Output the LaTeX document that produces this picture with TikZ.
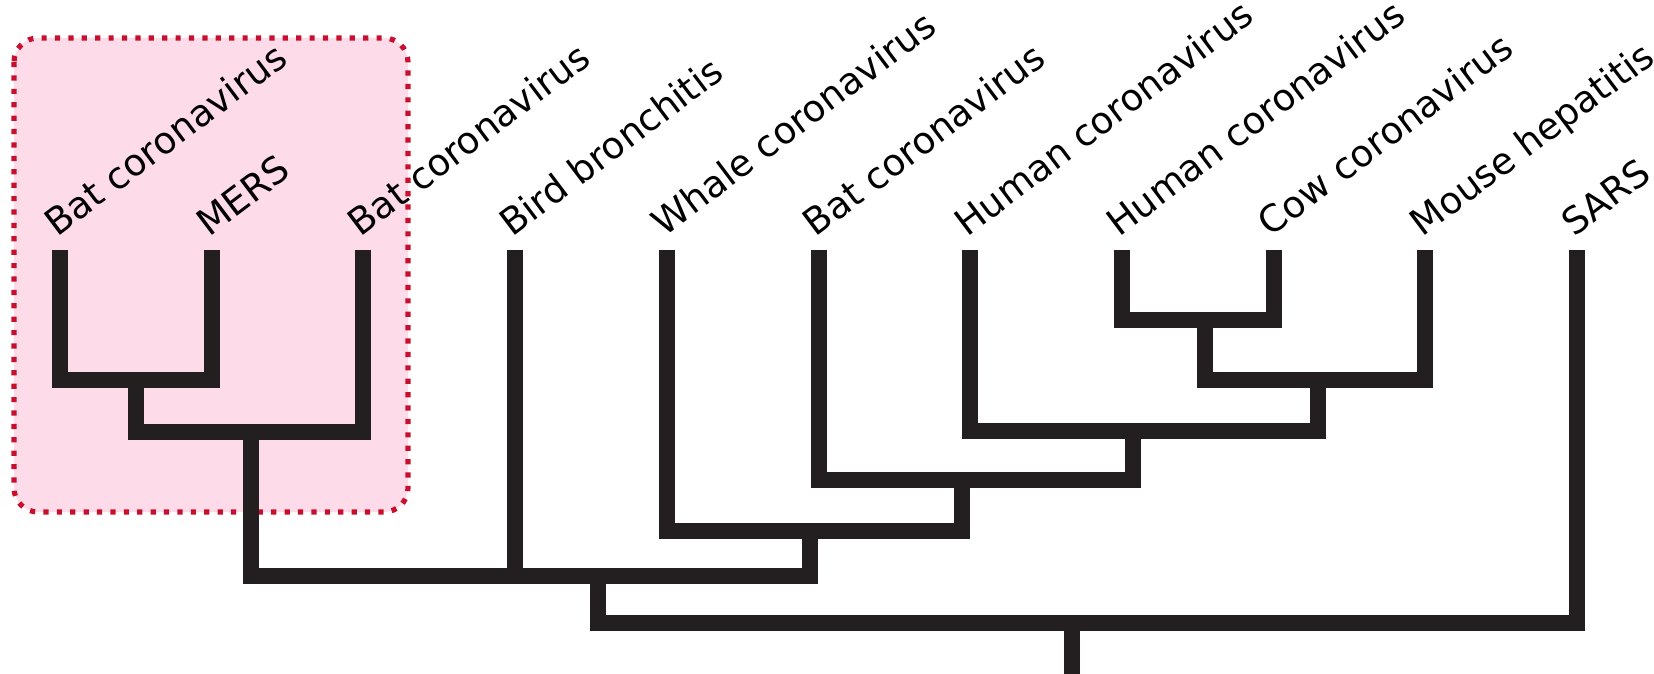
\documentclass[tikz,border=0pt]{standalone}
\usepackage{fontspec}
\setmainfont{DejaVu Sans}
\usepackage{xcolor}
\usetikzlibrary{positioning}
\definecolor{branchcol}{HTML}{231F20}
\definecolor{merspink}{HTML}{FDDBE8}
\definecolor{mersred}{HTML}{C8102E}

\begin{document}
\begin{tikzpicture}[x=0.5pt,y=-0.5pt,
    branch/.style={draw=branchcol,line width=8pt},
    leaf/.style={rotate=37,anchor=base west,inner sep=0pt,
      font=\fontsize{18.5}{21}\selectfont}]
  \useasboundingbox (0,0) rectangle (1654,674);
  % MERS clade box
  \draw[fill=merspink,draw=mersred,line width=2.6pt,
    dash pattern=on 2.6pt off 4.1pt,rounded corners=12pt]
    (14,38) rectangle (408,512);
  % leaf tips and names
  \foreach \name/\txt [count=\i from 0] in {bat1/Bat coronavirus,mers/MERS,
      bat2/Bat coronavirus,bird/Bird bronchitis,whale/Whale coronavirus,
      bat3/Bat coronavirus,human1/Human coronavirus,human2/Human coronavirus,
      cow/Cow coronavirus,mouse/Mouse hepatitis,sars/SARS}{
    \coordinate (\name) at ({60+151.7*\i},250);
    \node[leaf] (\name-lab) at ([xshift=-1.5pt,yshift=6pt]\name) {\txt};
  }
  % branch points
  \coordinate (j12)  at (136,380);
  \coordinate (jA)   at (251,432);
  \coordinate (j89)  at (1205,320);
  \coordinate (j810) at (1318,380);
  \coordinate (j7)   at (1133,431);
  \coordinate (j6)   at (962,480);
  \coordinate (j5)   at (810,531);
  \coordinate (jB)   at (598,576);
  \coordinate (root) at (1072,623);
  \coordinate (base) at (1072,680);
  % tree
  \draw[branch] (bat1) |- (j12) -| (mers);
  \draw[branch] (j12) |- (jA) -| (bat2);
  \draw[branch] (jA) |- (jB) -| (j5);
  \draw[branch] (bird) -- (bird |- jB);
  \draw[branch] (whale) |- (j5) -| (j6);
  \draw[branch] (bat3) |- (j6) -| (j7);
  \draw[branch] (human1) |- (j7) -| (j810);
  \draw[branch] (j89) |- (j810) -| (mouse);
  \draw[branch] (human2) |- (j89) -| (cow);
  \draw[branch] (jB) |- (root) -| (sars);
  \draw[branch] (root) -- (base);
\end{tikzpicture}
\end{document}
